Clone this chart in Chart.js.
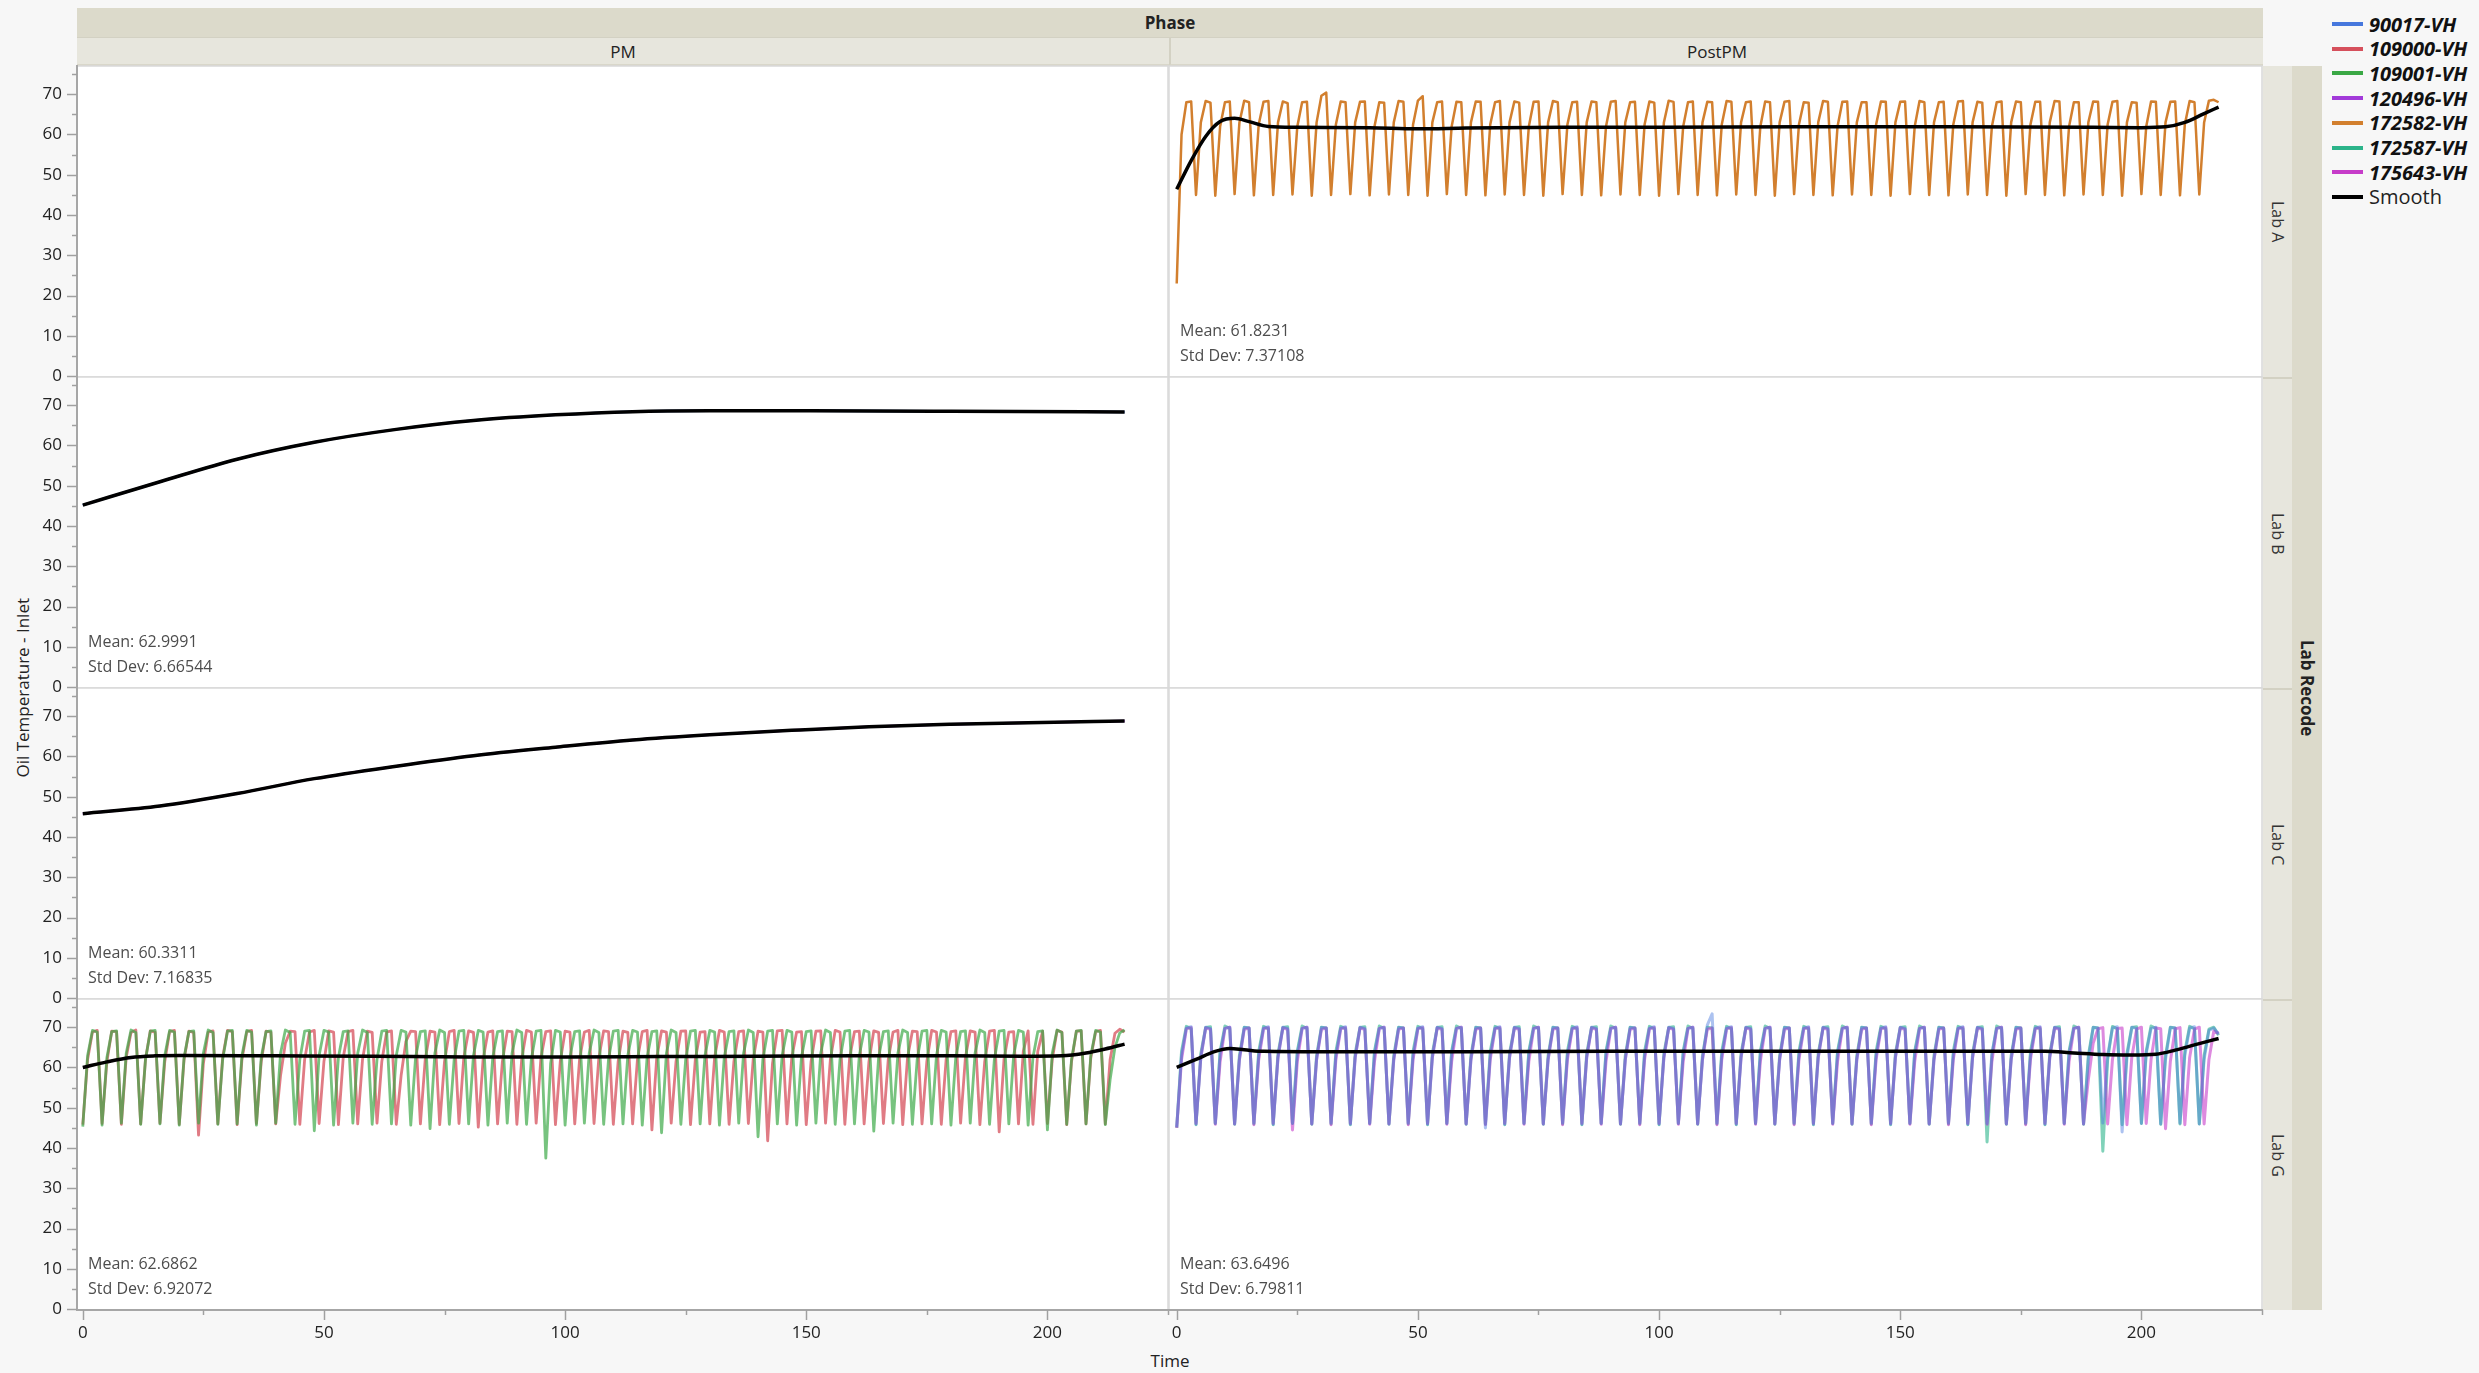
<!DOCTYPE html>
<html>
<head>
<meta charset="utf-8">
<script src="https://cdn.jsdelivr.net/npm/chart.js@4.4.1/dist/chart.umd.min.js"></script>
<style>
    body { margin: 0; width: 2479px; height: 1373px; background: #f7f7f7; position: relative; overflow: hidden;
           font-family: 'Open Sans', 'Noto Sans', sans-serif; color: #222; }
    canvas { position: absolute; }
    .hdr { position: absolute; display: flex; align-items: center; justify-content: center; box-sizing: border-box; font-size: 17px; }
    .vt { writing-mode: vertical-rl; }
    .legrow { position: absolute; left: 2332px; height: 24px; display: flex; align-items: center; }
    .legrow i { display: inline-block; width: 31px; height: 4px; margin-right: 6px; }
    .legrow span { font-size: 20px; font-weight: bold; font-style: italic; color: #111; }
</style>
</head>
<body>
<script>
// ---- data ----
const legendNames = ['90017-VH', '109000-VH', '109001-VH', '120496-VH', '172582-VH', '172587-VH', '175643-VH', 'Smooth'];
const legendColors = ['#4677dd', '#d6505c', '#3aa845', '#a23ad9', '#d27f2e', '#2cb48a', '#c63cc9', '#000000'];
const colLabels = ['PM', 'PostPM'];
const rowLabels = ['Lab A', 'Lab B', 'Lab C', 'Lab G'];

const timeGrid = [
    0, 1, 2, 3, 4, 5, 6, 7, 8, 9, 10, 11, 12, 13, 14, 15, 16, 17, 18, 19,
    20, 21, 22, 23, 24, 25, 26, 27, 28, 29, 30, 31, 32, 33, 34, 35, 36, 37, 38, 39,
    40, 41, 42, 43, 44, 45, 46, 47, 48, 49, 50, 51, 52, 53, 54, 55, 56, 57, 58, 59,
    60, 61, 62, 63, 64, 65, 66, 67, 68, 69, 70, 71, 72, 73, 74, 75, 76, 77, 78, 79,
    80, 81, 82, 83, 84, 85, 86, 87, 88, 89, 90, 91, 92, 93, 94, 95, 96, 97, 98, 99,
    100, 101, 102, 103, 104, 105, 106, 107, 108, 109, 110, 111, 112, 113, 114, 115, 116, 117, 118, 119,
    120, 121, 122, 123, 124, 125, 126, 127, 128, 129, 130, 131, 132, 133, 134, 135, 136, 137, 138, 139,
    140, 141, 142, 143, 144, 145, 146, 147, 148, 149, 150, 151, 152, 153, 154, 155, 156, 157, 158, 159,
    160, 161, 162, 163, 164, 165, 166, 167, 168, 169, 170, 171, 172, 173, 174, 175, 176, 177, 178, 179,
    180, 181, 182, 183, 184, 185, 186, 187, 188, 189, 190, 191, 192, 193, 194, 195, 196, 197, 198, 199,
    200, 201, 202, 203, 204, 205, 206, 207, 208, 209, 210, 211, 212, 213, 214, 215, 216
];

// Lab A, PostPM
const labA_172582 = [
    23, 60, 68, 68.2,
    45, 63, 68.3, 67.9, 44.8, 62, 68, 68.2, 45.2, 63, 68.4, 68, 44.9, 62.5, 68.1, 68.3,
    45, 63, 68.2, 67.8, 45.1, 62, 68, 68.1, 44.8, 63, 69.6, 70.4, 45, 62.5, 68.2, 68,
    45.2, 63, 68.1, 68.2, 44.9, 62, 68, 67.9, 45.1, 63, 68.3, 68.1, 45, 62.5, 68.4, 69.5,
    44.8, 63, 68, 68.2, 45.2, 62, 68.1, 68, 45, 63, 68.2, 68.1, 44.9, 62.5, 68, 68.3,
    45.1, 63, 68.2, 67.9, 45, 62, 68.1, 68.2, 44.8, 63, 68.3, 68, 45.2, 62.5, 68, 68.1,
    45, 63, 68.2, 68, 44.9, 62, 68.1, 68.3, 45.1, 63, 68, 68.1, 45, 62.5, 68.2, 67.9,
    44.8, 63, 68.4, 68.1, 45.2, 62, 68, 68.2, 45, 63, 68.1, 68, 44.9, 62.5, 68.3, 68.1,
    45.1, 63, 68, 68.2, 45, 62, 68.2, 68, 44.8, 63, 68.1, 68.3, 45.2, 62.5, 68, 67.9,
    45, 63, 68.3, 68.1, 44.9, 62, 68.1, 68.2, 45.1, 63, 68, 68, 45, 62.5, 68.2, 68.1,
    44.8, 63, 68.1, 68.2, 45.2, 62, 68.3, 68, 45, 63, 68, 68.1, 44.9, 62.5, 68.2, 68.3,
    45.1, 63, 68.1, 67.9, 45, 62, 68, 68.2, 44.8, 63, 68.2, 68, 45.2, 62.5, 68.1, 68.1,
    45, 63, 68.3, 68.2, 44.9, 62, 68, 68, 45.1, 63, 68.2, 68.1, 45, 62.5, 68.1, 68.3,
    44.8, 63, 68, 67.9, 45.2, 62, 68.2, 68.1, 45, 63, 68.1, 68.2, 44.9, 62.5, 68.3, 68,
    45.1, 63, 68.4, 68.6, 68
];
const labA_smoothT = [0, 3, 6, 9, 12, 15, 19, 25, 40, 50, 60, 80, 100, 130, 160, 190, 200, 205, 209, 213, 216];
const labA_smoothV = [46.4, 53.5, 59.5, 63.2, 64, 63.2, 62, 61.8, 61.7, 61.4, 61.6, 61.8, 61.8, 61.9, 61.9, 61.8, 61.7, 61.9, 63, 65.2, 66.8];

// Lab B, PM
const labB_t = [0, 16, 32, 48, 65, 81, 98, 114, 130, 150, 180, 216];
const labB_90017 = [45.2, 51, 56.6, 60.8, 64, 66.2, 67.6, 68.4, 68.6, 68.6, 68.5, 68.3];
const labB_smooth = [45.2, 51, 56.6, 60.8, 64, 66.2, 67.6, 68.4, 68.6, 68.6, 68.5, 68.3];

// Lab C, PM
const labC_t = [0, 16, 32, 48, 65, 81, 98, 114, 130, 147, 163, 180, 196, 216];
const labC_120496 = [45.8, 47.7, 50.8, 54.5, 57.6, 60.2, 62.3, 64.1, 65.4, 66.5, 67.4, 68, 68.4, 68.8];
const labC_smooth = [45.8, 47.7, 50.8, 54.5, 57.6, 60.2, 62.3, 64.1, 65.4, 66.5, 67.4, 68, 68.4, 68.8];

// Lab G, PM
const labG_109001 = [
    45.3, 63, 69.2, 68.8, 45.7, 62.5, 68.9, 69.1, 46.2, 63.5, 69.3, 68.7, 45.9, 62, 69, 69.2,
    46, 63, 69.2, 68.8, 45.7, 62.5, 68.9, 69.1, 46.2, 63.5, 69.3, 68.7, 45.9, 62, 69, 69.2,
    46, 63, 69.2, 68.8, 45.7, 62.5, 68.9, 69.1, 46.2, 63.5, 69.3, 68.7, 45.9, 62, 69, 69.2,
    44.3, 63, 69.2, 68.8, 45.7, 62.5, 68.9, 69.1, 46.2, 63.5, 69.3, 68.7, 45.9, 62, 69, 69.2,
    46, 63, 69.2, 68.8, 45.7, 62.5, 68.9, 69.1, 44.8, 63.5, 69.3, 68.7, 45.9, 62, 69, 69.2,
    46, 63, 69.2, 68.8, 45.7, 62.5, 68.9, 69.1, 46.2, 63.5, 69.3, 68.7, 45.9, 62, 69, 69.2,
    37.5, 61, 69.2, 68.8, 45.7, 62.5, 68.9, 69.1, 46.2, 63.5, 69.3, 68.7, 45.9, 62, 69, 69.2,
    46, 63, 69.2, 68.8, 45.7, 62.5, 68.9, 69.1, 43.8, 63.5, 69.3, 68.7, 45.9, 62, 69, 69.2,
    46, 63, 69.2, 68.8, 45.7, 62.5, 68.9, 69.1, 46.2, 63.5, 69.3, 68.7, 42.8, 62, 69, 69.2,
    46, 63, 69.2, 68.8, 45.7, 62.5, 68.9, 69.1, 46.2, 63.5, 69.3, 68.7, 45.9, 62, 69, 69.2,
    46, 63, 69.2, 68.8, 44.2, 62.5, 68.9, 69.1, 46.2, 63.5, 69.3, 68.7, 45.9, 62, 69, 69.2,
    46, 63, 69.2, 68.8, 45.7, 62.5, 68.9, 69.1, 46.2, 63.5, 69.3, 68.7, 45.9, 62, 69, 69.2,
    46, 63, 69.2, 68.8, 45.7, 62.5, 68.9, 69.1, 44.5, 63.5, 69.3, 68.7, 45.9, 62, 69, 69.2,
    46, 63, 69.2, 68.8, 45.8, 57, 65, 68.6, 69.3
];
const labG_109000 = [
    45.8, 62, 68.8, 69.2, 46.1, 61.5, 69, 68.9, 45.9, 62.5, 68.7, 69.3, 46, 62, 69.1, 68.8,
    46.2, 61.5, 68.9, 69.2, 45.9, 62, 69, 68.7, 43.2, 61, 68.8, 69.1, 46, 62.5, 69.2, 68.9,
    45.8, 62, 68.9, 69.2, 46.1, 61.5, 69, 68.8,
    46, 58, 66, 69, 68.9,
    45.9, 62, 68.8, 69.2, 46.1, 61.5, 69.1, 68.8, 45.8, 62.5, 68.9, 69.2, 46, 62, 69, 68.7, 46.2, 61.5, 68.8, 69.1,
    45.9, 58, 66.5, 69, 68.9,
    46, 62, 69, 68.8, 45.8, 61.5, 68.9, 69.2, 46.1, 62.5, 69.1, 68.7, 45.2, 62, 68.8, 69.1,
    46, 61.5, 69, 68.9, 45.9, 62, 69.2, 68.8, 46.2, 62.5, 68.9, 69.1, 45.8, 61.5, 69, 68.8,
    46, 62, 68.8, 69.2, 46.1, 62.5, 69.1, 68.9, 45.9, 61.5, 69, 68.7, 46, 62, 68.9, 69.2,
    44.5, 62.5, 69.1, 68.8, 46.2, 61.5, 69, 69.1, 45.8, 62, 68.8, 68.9, 46, 62.5, 69.2, 68.8,
    45.9, 61.5, 68.9, 69.1, 46.1, 62, 69, 68.8, 41.8, 61, 69.1, 69.2, 46, 62.5, 68.8, 68.9,
    45.8, 61.5, 69, 69.1, 46.2, 62, 69.2, 68.8, 45.9, 62.5, 68.9, 69, 46, 61.5, 69.1, 68.7,
    46.1, 62, 68.8, 69.2, 45.8, 62.5, 69, 68.9, 46, 61.5, 69.2, 68.8, 45.9, 62, 68.9, 69.1,
    46.2, 62.5, 69.1, 68.8, 45.8, 61.5, 69, 69.2, 44, 62, 68.8, 68.9,
    46, 64, 69.1,
    45.9, 64, 69,
    46.1, 62, 69.2, 68.8, 45.8, 61.5, 69, 69.1, 46, 62.5, 68.9, 69.2,
    46, 62, 68.5, 69.5, 68.8
];
const labGpm_smoothT = [0, 5, 10, 15, 20, 40, 60, 80, 100, 120, 140, 160, 180, 195, 203, 208, 212, 216];
const labGpm_smoothV = [60, 61.4, 62.5, 62.9, 63, 62.9, 62.8, 62.6, 62.6, 62.7, 62.8, 62.9, 62.9, 62.8, 62.9, 63.6, 64.6, 65.8];

// Lab G, PostPM
const labG_172587 = [
    45, 64, 70.2, 69.6, 45.8, 63.5, 69.9, 70.1, 46.1, 64, 70.3, 69.7, 45.9, 63, 70, 69.8,
    46, 64, 70.2, 69.6, 45.8, 63.5, 69.9, 70.1, 46.1, 64, 70.3, 69.7, 45.9, 63, 70, 69.8,
    46, 64, 70.2, 69.6, 45.8, 63.5, 69.9, 70.1, 46.1, 64, 70.3, 69.7, 45.9, 63, 70, 69.8,
    46, 64, 70.2, 69.6, 45.8, 63.5, 69.9, 70.1, 46.1, 64, 70.3, 69.7, 45.9, 63, 70, 69.8,
    46, 64, 70.2, 69.6, 45.8, 63.5, 69.9, 70.1, 46.1, 64, 70.3, 69.7, 45.9, 63, 70, 69.8,
    46, 64, 70.2, 69.6, 45.8, 63.5, 69.9, 70.1, 46.1, 64, 70.3, 69.7, 45.9, 63, 70, 69.8,
    46, 64, 70.2, 69.6, 45.8, 63.5, 69.9, 70.1, 46.1, 64, 70.3, 69.7, 45.9, 63, 70, 69.8,
    46, 64, 70.2, 69.6, 45.8, 63.5, 69.9, 70.1, 46.1, 64, 70.3, 69.7, 45.9, 63, 70, 69.8,
    46, 64, 70.2, 69.6, 45.8, 63.5, 69.9, 70.1, 46.1, 64, 70.3, 69.7, 45.9, 63, 70, 69.8,
    46, 64, 70.2, 69.6, 45.8, 63.5, 69.9, 70.1, 46.1, 64, 70.3, 69.7, 45.9, 63, 70, 69.8,
    46, 64, 70.2, 69.6, 45.8, 63.5, 69.9, 70.1, 41.5, 63, 70.3, 69.7, 45.9, 63, 70, 69.8,
    46, 64, 70.2, 69.6, 45.8, 63.5, 69.9, 70.1, 46.1, 64, 70.3, 69.7, 45.9, 63, 70, 69.8,
    39.2, 62, 70.2, 69.6, 45.8, 63.5, 69.9, 70.1, 46.1, 64, 70.3, 69.7, 45.9, 63, 70, 69.8,
    46, 64, 70.2, 69.6, 46, 63, 69.5, 70, 68
];
const labG_175643 = [
    45, 62, 69.6, 69.9, 46.1, 62.5, 69.8, 69.5, 45.9, 61.5, 69.7, 70, 46, 62, 69.5, 69.8,
    45.8, 62, 69.6, 69.9, 46.1, 62.5, 69.8, 69.5, 44.5, 61.5, 69.7, 70, 46, 62, 69.5, 69.8,
    45.8, 62, 69.6, 69.9, 46.1, 62.5, 69.8, 69.5, 45.9, 61.5, 69.7, 70, 46, 62, 69.5, 69.8,
    45.8, 62, 69.6, 69.9, 46.1, 62.5, 69.8, 69.5, 45.9, 61.5, 69.7, 70, 46, 62, 69.5, 69.8,
    45.8, 62, 69.6, 69.9, 46.1, 62.5, 69.8, 69.5, 45.9, 61.5, 69.7, 70, 46, 62, 69.5, 69.8,
    45.8, 62, 69.6, 69.9, 46.1, 62.5, 69.8, 69.5, 45.9, 61.5, 69.7, 70, 46, 62, 69.5, 69.8,
    45.8, 62, 69.6, 69.9, 46.1, 62.5, 69.8, 69.5, 45.9, 61.5, 69.7, 70, 46, 62, 69.5, 69.8,
    45.8, 62, 69.6, 69.9, 46.1, 62.5, 69.8, 69.5, 45.9, 61.5, 69.7, 70, 46, 62, 69.5, 69.8,
    45.8, 62, 69.6, 69.9, 46.1, 62.5, 69.8, 69.5, 45.9, 61.5, 69.7, 70, 46, 62, 69.5, 69.8,
    45.8, 62, 69.6, 69.9, 46.1, 62.5, 69.8, 69.5, 45.9, 61.5, 69.7, 70, 46, 62, 69.5, 69.8,
    45.8, 62, 69.6, 69.9, 46.1, 62.5, 69.8, 69.5, 45.9, 61.5, 69.7, 70, 46, 62, 69.5, 69.8,
    45.8, 62, 69.6, 69.9, 46.1, 62.5, 69.8, 69.5, 45.9, 61.5, 69.7, 70,
    46, 57, 66, 69.6, 69.9,
    46, 62, 69.7, 69.8, 45.8, 62.5, 69.5, 70, 46.1, 62, 69.8, 69.6, 44.8, 61.5, 69.6, 69.9, 45.8, 62.5, 69.5, 70,
    46, 62, 69, 68.5
];
const labG_90017 = [
    45.2, 63, 69.8, 70.1, 45.9, 62.5, 70, 69.7, 46.1, 63.5, 69.7, 70, 46, 62, 69.9, 69.8,
    46.2, 63, 69.8, 70.1, 45.9, 62.5, 70, 69.7, 46.1, 63.5, 69.7, 70, 46, 62, 69.9, 69.8,
    46.2, 63, 69.8, 70.1, 45.9, 62.5, 70, 69.7, 46.1, 63.5, 69.7, 70, 46, 62, 69.9, 69.8,
    46.2, 63, 69.8, 70.1, 45.9, 62.5, 70, 69.7, 46.1, 63.5, 69.7, 70, 46, 62, 69.9, 69.8,
    45, 63, 69.8, 70.1, 45.9, 62.5, 70, 69.7, 46.1, 63.5, 69.7, 70, 46, 62, 69.9, 69.8,
    46.2, 63, 69.8, 70.1, 45.9, 62.5, 70, 69.7, 46.1, 63.5, 69.7, 70, 46, 62, 69.9, 69.8,
    46.2, 63, 69.8, 70.1, 45.9, 62.5, 70, 69.7, 46.1, 63.5, 69.7, 70, 46, 62, 70.5, 73.3,
    46.2, 63, 69.8, 70.1, 45.9, 62.5, 70, 69.7, 46.1, 63.5, 69.7, 70, 46, 62, 69.9, 69.8,
    46.2, 63, 69.8, 70.1, 45.9, 62.5, 70, 69.7, 46.1, 63.5, 69.7, 70, 46, 62, 69.9, 69.8,
    46.2, 63, 69.8, 70.1, 45.9, 62.5, 70, 69.7, 46.1, 63.5, 69.7, 70, 46, 62, 69.9, 69.8,
    46.2, 63, 69.8, 70.1, 45.9, 62.5, 70, 69.7, 46.1, 63.5, 69.7, 70, 46, 62, 69.9, 69.8,
    46.2, 63, 69.8, 70.1, 45.9, 62.5, 70, 69.7, 46.1, 63.5, 69.7, 70, 46, 62, 69.9, 69.8,
    46.2, 63, 69.8, 70.1, 44, 62.5, 70, 69.7, 46.1, 63.5, 69.7, 70, 46, 62, 69.9, 69.8,
    46.2, 63, 69.8, 70.1, 46, 62, 69.2, 69.8, 68.3
];
const labGpost_smoothT = [0, 4, 8, 11, 14, 18, 30, 60, 90, 120, 150, 180, 186, 192, 198, 203, 207, 211, 216];
const labGpost_smoothV = [60, 62, 64, 64.7, 64.4, 64, 63.9, 63.9, 64, 64, 64, 64, 63.6, 63.2, 63.1, 63.3, 64.3, 65.6, 67.2];

const statLines = {
    labA_post: ['Mean: 61.8231', 'Std Dev: 7.37108'],
    labB_pm: ['Mean: 62.9991', 'Std Dev: 6.66544'],
    labC_pm: ['Mean: 60.3311', 'Std Dev: 7.16835'],
    labG_pm: ['Mean: 62.6862', 'Std Dev: 6.92072'],
    labG_post: ['Mean: 63.6496', 'Std Dev: 6.79811']
};

[labA_172582, labG_109001, labG_109000, labG_172587, labG_175643, labG_90017].forEach(function(a, i) {
    if (a.length !== timeGrid.length) throw new Error('series ' + i + ' has ' + a.length + ' values');
});

// ---- layout ----
const colLeft = [77, 1169], colRight = [1168, 2262];
const rowTop = [66, 377, 688, 999], rowBottom = [377, 688, 999, 1310];
const xMin = [-1.2, -1.6], xMax = 225;
const yMin = -0.2, yMax = 77;
const M = 30, AXIS_W = 77, AXIS_H = 56;
const FONT = "'Open Sans', 'Noto Sans', sans-serif";

const colorOf = {};
legendNames.forEach(function(n, i) { colorOf[n] = legendColors[i]; });

// lines are listed bottom to top, each as [series, times, values, alpha]
const panels = [
    { row: 0, col: 0, lines: [] },
    { row: 0, col: 1, lines: [['172582-VH', timeGrid, labA_172582, 'ff']], smooth: [labA_smoothT, labA_smoothV], stats: statLines.labA_post, width: 2.5 },
    { row: 1, col: 0, lines: [['90017-VH', labB_t, labB_90017, 'ff']], smooth: [labB_t, labB_smooth], stats: statLines.labB_pm, width: 2.5 },
    { row: 1, col: 1, lines: [] },
    { row: 2, col: 0, lines: [['120496-VH', labC_t, labC_120496, 'ff']], smooth: [labC_t, labC_smooth], stats: statLines.labC_pm, width: 2.5 },
    { row: 2, col: 1, lines: [] },
    { row: 3, col: 0, lines: [['109000-VH', timeGrid, labG_109000, 'c0'], ['109001-VH', timeGrid, labG_109001, 'b0']],
      smooth: [labGpm_smoothT, labGpm_smoothV], stats: statLines.labG_pm, width: 2.8 },
    { row: 3, col: 1, lines: [['172587-VH', timeGrid, labG_172587, '99'], ['175643-VH', timeGrid, labG_175643, '99'], ['90017-VH', timeGrid, labG_90017, '73']],
      smooth: [labGpost_smoothT, labGpost_smoothV], stats: statLines.labG_post, width: 3 }
];

const panelFrame = {
    id: 'panelFrame',
    beforeDraw(chart) {
        const a = chart.chartArea, ctx = chart.ctx;
        ctx.save();
        ctx.fillStyle = '#ffffff';
        ctx.fillRect(a.left, a.top, a.right - a.left, a.bottom - a.top);
        ctx.strokeStyle = '#d9d9d9';
        ctx.lineWidth = 1.5;
        ctx.strokeRect(a.left, a.top, a.right - a.left, a.bottom - a.top);
        ctx.restore();
    },
    afterDraw(chart, args, opts) {
        const a = chart.chartArea, ctx = chart.ctx;
        ctx.save();
        ctx.strokeStyle = '#a0a0a0';
        ctx.lineWidth = 1.5;
        ['x', 'y'].forEach(function(id) {
            const s = chart.scales[id];
            if (!s.options.display) return;
            s.ticks.forEach(function(t) {
                const major = id === 'y' ? t.value % 10 === 0 : t.value % 50 === 0;
                const len = major ? 10 : 5;
                const p = Math.round(s.getPixelForValue(t.value)) + 0.5;
                ctx.beginPath();
                if (id === 'y') { ctx.moveTo(a.left - len, p); ctx.lineTo(a.left, p); }
                else { ctx.moveTo(p, a.bottom); ctx.lineTo(p, a.bottom + len); }
                ctx.stroke();
            });
        });
        if (opts.stats) {
            ctx.font = '16px ' + FONT;
            ctx.fillStyle = '#4d4d4d';
            ctx.textBaseline = 'middle';
            ctx.fillText(opts.stats[0], a.left + 11, a.bottom - 46);
            ctx.fillText(opts.stats[1], a.left + 11, a.bottom - 21);
        }
        ctx.restore();
    }
};

function makePanel(p) {
    const c = p.col, r = p.row;
    const left = c === 0 ? 0 : colLeft[1] - M;
    const width = colRight[c] + M - left;
    const top = rowTop[r] - M;
    const height = (rowBottom[r] - rowTop[r]) + M + (r === 3 ? AXIS_H : M);

    const canvas = document.createElement('canvas');
    canvas.width = width;
    canvas.height = height;
    canvas.style.left = left + 'px';
    canvas.style.top = top + 'px';
    document.body.appendChild(canvas);

    // chart.js paints low "order" last, so the smooth gets 0 and the first listed line the highest number
    const n = p.lines.length;
    const datasets = p.lines.map(function(l, k) {
        return {
            label: l[0],
            order: n - k,
            data: l[1].map(function(t, i) { return { x: t, y: l[2][i] }; }),
            borderColor: colorOf[l[0]] + l[3],
            borderWidth: p.width,
            borderJoinStyle: 'round',
            pointRadius: 0,
            tension: 0,
            cubicInterpolationMode: l[1].length < 30 ? 'monotone' : 'default'
        };
    });
    if (p.smooth) {
        datasets.push({
            label: 'Smooth',
            order: 0,
            data: p.smooth[0].map(function(t, i) { return { x: t, y: p.smooth[1][i] }; }),
            borderColor: '#000000',
            borderWidth: 3.5,
            pointRadius: 0,
            cubicInterpolationMode: 'monotone'
        });
    }

    new Chart(canvas, {
        type: 'line',
        data: { datasets: datasets },
        options: {
            responsive: false,
            animation: false,
            devicePixelRatio: 1,
            events: [],
            layout: { padding: { left: c === 0 ? 0 : M, right: M, top: M, bottom: r === 3 ? 0 : M } },
            plugins: { legend: { display: false }, tooltip: { enabled: false }, panelFrame: { stats: p.stats } },
            scales: {
                x: {
                    type: 'linear', min: xMin[c], max: xMax, display: r === 3,
                    afterFit: function(s) { if (r === 3) s.height = AXIS_H; },
                    grid: { drawOnChartArea: false, drawTicks: false },
                    border: { color: '#a6a6a6', width: 2 },
                    ticks: {
                        stepSize: 25, includeBounds: false, autoSkip: false, maxRotation: 0, padding: 13,
                        color: '#222', font: { family: FONT, size: 17 },
                        callback: function(v) { return v % 50 === 0 ? String(v) : ''; }
                    }
                },
                y: {
                    type: 'linear', min: yMin, max: yMax, display: c === 0,
                    afterFit: function(s) { if (c === 0) s.width = AXIS_W; },
                    grid: { drawOnChartArea: false, drawTicks: false },
                    border: { color: '#a6a6a6', width: 2 },
                    ticks: {
                        stepSize: 5, includeBounds: false, autoSkip: false, padding: 15,
                        color: '#222', font: { family: FONT, size: 17 },
                        callback: function(v) { return v % 10 === 0 ? String(v) : ''; }
                    }
                }
            }
        },
        plugins: [panelFrame]
    });
}

function addDiv(cls, style, html) {
    const d = document.createElement('div');
    d.className = cls;
    d.setAttribute('style', style);
    d.innerHTML = html;
    document.body.appendChild(d);
    return d;
}

// headers
addDiv('hdr', 'left:77px;top:8px;width:2186px;height:29px;background:#dcdacb;font-weight:bold;', 'Phase');
colLabels.forEach(function(txt, c) {
    addDiv('hdr', 'left:' + colLeft[c] + 'px;top:37px;width:' + (colRight[c] - colLeft[c] + 1) + 'px;height:29px;background:#e7e6dd;' +
        'border-top:1px solid #d3d1c3;border-bottom:2px solid #d9d7ca;' + (c === 1 ? 'border-left:2px solid #d3d1c3;' : ''), txt);
});
rowLabels.forEach(function(txt, r) {
    addDiv('hdr', 'left:2263px;top:' + rowTop[r] + 'px;width:29px;height:' + (rowBottom[r] - rowTop[r]) + 'px;background:#e7e6dd;' +
        'font-size:16px;color:#333;' + (r > 0 ? 'border-top:2px solid #d3d1c3;' : ''), '<span class="vt">' + txt + '</span>');
});
addDiv('hdr', 'left:2292px;top:66px;width:30px;height:1244px;background:#dcdacb;font-weight:bold;', '<span class="vt">Lab Recode</span>');

// axis titles
addDiv('hdr', 'left:6px;top:66px;width:32px;height:1244px;', '<span class="vt" style="transform:rotate(180deg)">Oil Temperature - Inlet</span>');
addDiv('hdr', 'left:77px;top:1347px;width:2186px;height:26px;', 'Time');

// legend
legendNames.forEach(function(n, i) {
    const row = addDiv('legrow', 'top:' + (12 + i * 24.7) + 'px;', '<i style="background:' + legendColors[i] + '"></i><span>' + n + '</span>');
    if (n === 'Smooth') row.querySelector('span').setAttribute('style', 'font-weight:normal;font-style:normal;color:#222');
});

panels.forEach(makePanel);
</script>
</body>
</html>
